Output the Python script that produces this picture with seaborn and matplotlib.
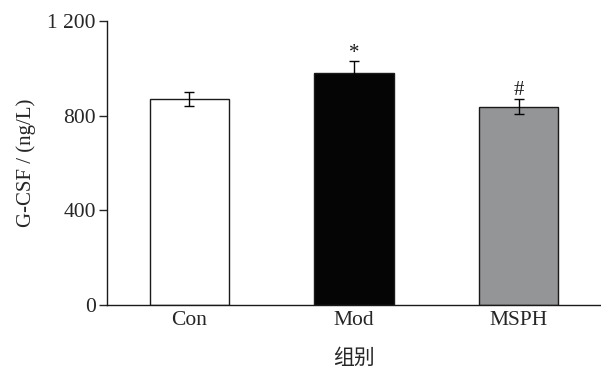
import matplotlib
matplotlib.use("Agg")
import matplotlib.pyplot as plt
import seaborn as sns
import pandas as pd

groups = ["Con", "Mod", "MSPH"]
means = [870, 980, 838]
sds = [28, 50, 32]
marks = ["", "*", "#"]
bar_colors = ["#ffffff", "#050505", "#939598"]
yticks = [0, 400, 800, 1200]
ytick_labels = ["0", "400", "800", "1 200"]

sns.set_theme(style="ticks")
plt.rcParams["font.family"] = ["Liberation Serif", "Noto Sans CJK SC"]

df = pd.DataFrame({"group": groups, "value": means})

fig = plt.figure(figsize=(6.01, 3.70), dpi=100)
ax = fig.add_axes([107 / 601, 65 / 370, 494 / 601, 284 / 370])

sns.barplot(data=df, x="group", y="value", hue="group", palette=bar_colors,
            edgecolor="#1a1a1a", linewidth=1.0, width=0.48, errorbar=None,
            legend=False, ax=ax)

ax.errorbar(range(len(groups)), means, yerr=sds, fmt="none",
            ecolor="#050505", elinewidth=1.0, capsize=3.6, capthick=1.0)

for i, (m, s, t) in enumerate(zip(means, sds, marks)):
    if t:
        ax.annotate(t, xy=(i, m + s), xytext=(0, -1), textcoords="offset points",
                    ha="center", va="bottom", fontsize=15, color="#1a1a1a")

ax.set_xlim(-0.5, 2.5)
ax.set_ylim(0, 1200)
ax.set_yticks(yticks)
ax.set_yticklabels(ytick_labels)
ax.set_ylabel("G-CSF / (ng/L)", fontsize=15, labelpad=8)
ax.set_xlabel("组别", fontsize=15, labelpad=14)
ax.tick_params(axis="y", direction="out", length=6, width=1.0, labelsize=15.5, pad=2)
ax.tick_params(axis="x", direction="in", length=6, width=1.0, labelsize=15.5, pad=4)
for sp in ["top", "right"]:
    ax.spines[sp].set_visible(False)
for sp in ["left", "bottom"]:
    ax.spines[sp].set_linewidth(1.0)
    ax.spines[sp].set_color("#1a1a1a")

fig.savefig("out.png", dpi=100)
